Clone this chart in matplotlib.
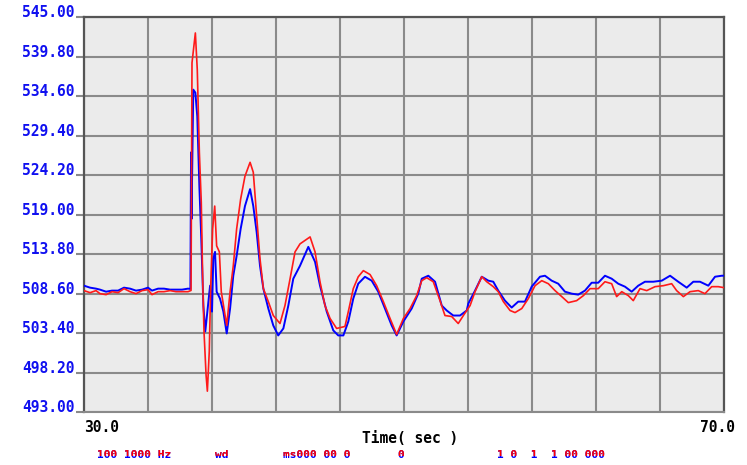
import matplotlib.pyplot as plt
from matplotlib.transforms import Bbox

# time (sec) and values
t_red = [30.00, 30.38, 30.75, 31.00, 31.38, 31.75, 32.13, 32.50, 32.88, 33.25,
         33.63, 34.00, 34.25, 34.63, 35.00, 35.38, 35.75, 36.13, 36.50, 36.69,
         36.75, 36.96, 37.08, 37.21, 37.33, 37.42, 37.50, 37.63, 37.71, 37.83,
         37.92, 38.04, 38.17, 38.29, 38.46, 38.58, 38.92, 39.13, 39.33, 39.54,
         39.79, 40.06, 40.38, 40.58, 40.79, 41.00, 41.21, 41.52, 41.83, 42.25,
         42.56, 42.88, 43.19, 43.50, 44.13, 44.44, 44.75, 45.06, 45.38, 45.79,
         46.31, 46.52, 46.83, 47.14, 47.46, 47.88, 48.29, 48.71, 49.13, 49.54,
         49.96, 50.38, 50.79, 51.11, 51.42, 51.83, 52.25, 52.56, 52.98, 53.39,
         53.71, 54.13, 54.44, 54.86, 55.17, 55.58, 55.89, 56.21, 56.63, 56.94,
         57.36, 57.77, 58.19, 58.61, 59.02, 59.44, 59.86, 60.27, 60.79, 61.21,
         61.63, 62.14, 62.56, 62.98, 63.29, 63.61, 64.02, 64.33, 64.75, 65.17,
         65.69, 66.21, 66.73, 67.04, 67.46, 67.88, 68.39, 68.81, 69.23, 69.64,
         70.00]
v_red = [508.98, 508.71, 508.98, 508.58, 508.45, 508.84, 508.71, 509.24, 508.84, 508.58,
         508.98, 509.11, 508.45, 508.84, 508.84, 508.98, 508.84, 508.84, 508.84, 509.00,
         538.97, 542.90, 538.06, 527.18, 520.63, 510.15, 503.60, 497.84, 495.74, 500.98,
         509.63, 517.10, 520.11, 514.87, 514.08, 508.84, 504.39, 508.84, 512.25, 517.10,
         521.03, 524.04, 525.87, 524.56, 518.80, 513.17, 509.24, 507.53, 505.70, 504.65,
         507.01, 510.55, 514.08, 515.13, 516.05, 514.08, 510.15, 507.01, 505.31, 504.00,
         504.26, 506.22, 509.24, 510.80, 511.61, 511.09, 509.63, 507.53, 505.31, 503.21,
         505.31, 506.62, 508.32, 510.29, 510.68, 510.15, 507.66, 505.70, 505.57, 504.65,
         505.70, 507.01, 508.84, 510.81, 510.15, 509.50, 508.84, 507.53, 506.36, 506.09,
         506.62, 507.93, 509.63, 510.29, 509.89, 508.98, 508.19, 507.40, 507.66, 508.32,
         509.24, 509.24, 510.15, 509.89, 508.19, 508.84, 508.32, 507.66, 509.24, 508.98,
         509.50, 509.63, 509.89, 508.98, 508.19, 508.84, 508.98, 508.58, 509.50, 509.50,
         509.37]

t_blue = [30.00, 30.38, 30.75, 31.00, 31.38, 31.75, 32.13, 32.50, 32.88, 33.25,
          33.63, 34.00, 34.25, 34.63, 35.00, 35.38, 35.75, 36.13, 36.50, 36.65,
          36.69, 36.72, 36.83, 36.96, 37.08, 37.21, 37.33, 37.46, 37.58, 37.71,
          37.88, 38.00, 38.08, 38.19, 38.29, 38.50, 38.71, 38.92, 39.13, 39.33,
          39.54, 39.79, 40.06, 40.38, 40.58, 40.79, 41.00, 41.21, 41.52, 41.83,
          42.14, 42.46, 42.77, 43.08, 43.50, 44.02, 44.44, 44.75, 45.17, 45.58,
          45.89, 46.21, 46.52, 46.83, 47.14, 47.56, 47.98, 48.39, 48.81, 49.23,
          49.54, 49.96, 50.48, 50.89, 51.11, 51.52, 51.94, 52.36, 52.67, 53.08,
          53.50, 53.92, 54.02, 54.44, 54.86, 55.27, 55.58, 55.89, 56.31, 56.73,
          57.14, 57.56, 57.98, 58.50, 58.81, 59.23, 59.64, 60.06, 60.48, 60.89,
          61.31, 61.73, 62.14, 62.56, 62.98, 63.39, 63.81, 64.23, 64.64, 65.06,
          65.58, 66.11, 66.63, 67.14, 67.67, 68.08, 68.50, 69.02, 69.44, 69.86,
          70.00]
v_blue = [509.63, 509.37, 509.24, 509.11, 508.84, 508.98, 508.98, 509.37, 509.24, 508.98,
          509.11, 509.37, 508.98, 509.24, 509.24, 509.11, 509.11, 509.11, 509.24, 509.20,
          527.18, 518.41, 535.44, 535.04, 531.90, 522.73, 515.79, 507.01, 503.60, 506.22,
          509.63, 506.22, 513.17, 514.08, 508.84, 507.93, 506.22, 503.34, 506.62, 510.94,
          513.56, 517.10, 520.11, 522.34, 520.11, 516.70, 512.25, 509.24, 506.62, 504.39,
          503.08, 504.00, 507.01, 510.55, 512.25, 514.74, 512.77, 509.63, 506.22, 503.74,
          503.08, 503.08, 504.91, 507.93, 509.89, 510.80, 510.29, 508.84, 506.62, 504.39,
          503.08, 504.91, 506.62, 508.58, 510.55, 510.94, 510.15, 507.01, 506.36, 505.70,
          505.70, 506.36, 507.27, 508.98, 510.81, 510.29, 510.15, 508.98, 507.66, 506.75,
          507.53, 507.53, 509.50, 510.81, 510.94, 510.29, 509.89, 508.84, 508.58, 508.45,
          508.98, 510.02, 510.02, 510.94, 510.55, 509.89, 509.50, 508.84, 509.63, 510.15,
          510.15, 510.29, 510.94, 510.15, 509.37, 510.15, 510.15, 509.63, 510.81, 510.94,
          510.94]

y_ticks = [493.00, 498.20, 503.40, 508.60, 513.80, 519.00,
           524.20, 529.40, 534.60, 539.80, 545.00]
x_ticks = [30, 34, 38, 42, 46, 50, 54, 58, 62, 66, 70]

mono = 'DejaVu Sans Mono'

fig = plt.figure(figsize=(7.47, 4.65), dpi=100)
ax = fig.add_axes([84/747, 1-412/465, 640/747, 395/465])
ax.set_facecolor('#ebebeb')

ax.plot(t_blue, v_blue, color='#0000ff', lw=1.4, zorder=3)
ax.plot(t_red, v_red, color='#ff1a1a', lw=1.2, zorder=4)

ax.set_xlim(30, 70)
ax.set_ylim(493, 545)
ax.set_xticks(x_ticks)
ax.set_yticks(y_ticks)
ax.set_xticklabels([])
ax.set_yticklabels(['%.2f' % v for v in y_ticks], color='#1010f0',
                   fontfamily=mono, fontweight='bold', fontsize=10.5)
for lab in ax.get_yticklabels():
    lab.set_va('baseline')
ax.grid(True, color='#8a8a8a', lw=1.5, zorder=1)
ax.tick_params(axis='y', length=6, width=1.5, color='#8a8a8a', pad=1)
ax.tick_params(axis='x', length=0)
for s in ['left', 'top', 'right']:
    ax.spines[s].set_color('#555555')
    ax.spines[s].set_linewidth(1.6)
ax.spines['bottom'].set_color('#8a8a8a')
ax.spines['bottom'].set_linewidth(1.5)

# x end labels and axis title
fig.text(84/747, 1-427/465, '30.0', fontfamily=mono, fontweight='bold',
         fontsize=10.5, ha='left', va='center')
fig.text(700/747, 1-427/465, '70.0', fontfamily=mono, fontweight='bold',
         fontsize=10.5, ha='left', va='center')
fig.text(410/747, 1-438/465, 'Time( sec )', fontfamily=mono, fontweight='bold',
         fontsize=10.5, ha='center', va='center')

# bottom status row, red on top half, blue underneath
status = [(97, '100 1000 Hz'), (215, 'wd'), (283, 'ms000 00 0'),
          (397, '0'), (497, '1 0  1  1 00 000')]
for x, s in status:
    fig.text(x/747, 1-455/465, s, fontfamily=mono, fontweight='bold',
             fontsize=8, color='#0000ff', ha='left', va='center')
    t = fig.text(x/747, 1-455/465, s, fontfamily=mono, fontweight='bold',
                 fontsize=8, color='#ff0000', ha='left', va='center')
    t.set_clip_box(Bbox.from_extents(0, 465 - 456, 747, 465))
    t.set_clip_on(True)

fig.savefig('out.png', dpi=100, facecolor='white')
